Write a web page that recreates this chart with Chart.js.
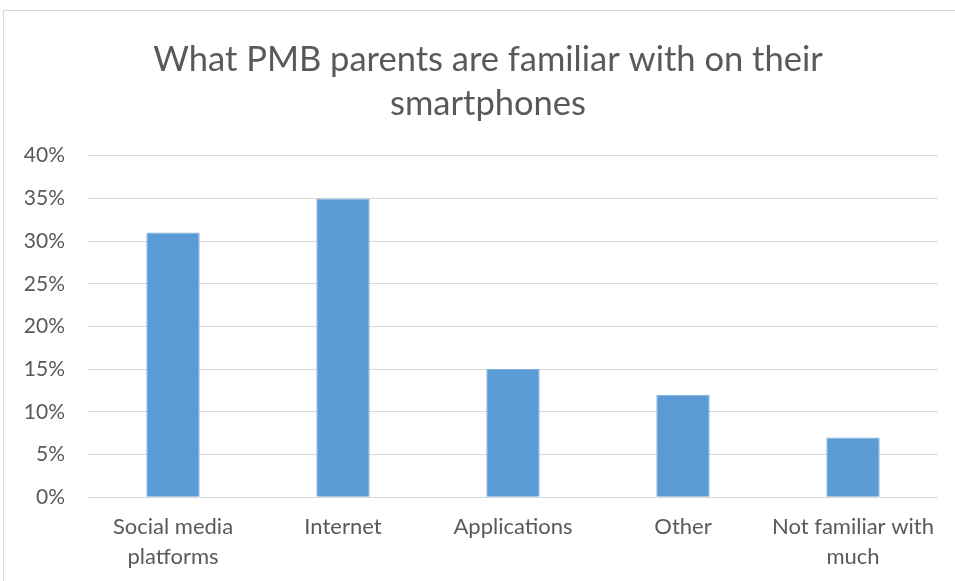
<!DOCTYPE html>
<html>
<head>
<meta charset="utf-8">
<script src="https://cdn.jsdelivr.net/npm/chart.js@4"></script>
<style>
  html, body { margin: 0; padding: 0; background: #fff; }
  #wrap { width: 955px; height: 581px; }
</style>
</head>
<body>
<div id="wrap"><canvas id="chart"></canvas></div>
<script>
const categories = [
  ["Social media", "platforms"],
  "Internet",
  "Applications",
  "Other",
  ["Not familiar with", "much"],
];
const familiarValues = [31, 35, 15, 12, 7];
const titleLines = ["What PMB parents are familiar with on their", "smartphones"];

const textColor = "#595959";

// light gray frame around the chart, like the office chart border
const frame = {
  id: "frame",
  beforeDraw(chart) {
    const c = chart.ctx;
    c.save();
    c.strokeStyle = "#d9d9d9";
    c.lineWidth = 1;
    c.strokeRect(3.5, 10.5, chart.width + 10, chart.height + 10);
    c.restore();
  },
  // the frame runs past the right edge, so the title is centred a bit right of the plot
  afterLayout(chart) {
    if (chart.titleBlock) chart.titleBlock.left = 38;
  },
};

const ctx = document.getElementById("chart").getContext("2d");

new Chart(ctx, {
  type: "bar",
  data: {
    labels: categories,
    datasets: [
      {
        label: "Familiar",
        data: familiarValues,
        backgroundColor: "#5b9bd5",
        borderColor: "#7fb1e0",
        borderWidth: 1,
        barPercentage: 0.314,
        categoryPercentage: 1,
      },
    ],
  },
  options: {
    responsive: true,
    maintainAspectRatio: false,
    animation: false,
    layout: { padding: { left: 0, right: 17, top: 0, bottom: -6 } },
    plugins: {
      legend: { display: false },
      tooltip: { enabled: false },
      title: {
        display: true,
        text: titleLines,
        color: textColor,
        font: { family: "Lato", size: 34.5, weight: "normal", lineHeight: 1.3 },
        padding: { top: 37, bottom: 29 },
      },
    },
    scales: {
      x: {
        grid: { display: false, drawTicks: false },
        border: { display: false },
        ticks: {
          color: textColor,
          font: { family: "Lato", size: 22, lineHeight: 1.36 },
          padding: 15,
          maxRotation: 0,
          autoSkip: false,
        },
      },
      y: {
        min: 0,
        max: 40,
        afterFit(scale) {
          scale.width = 88;
        },
        grid: { color: "#d9d9d9", lineWidth: 1, drawTicks: false },
        border: { display: false },
        ticks: {
          stepSize: 5,
          color: textColor,
          font: { family: "Lato", size: 21 },
          padding: 23,
          callback: (v) => v + "%",
        },
      },
    },
  },
  plugins: [frame],
});
</script>
</body>
</html>
